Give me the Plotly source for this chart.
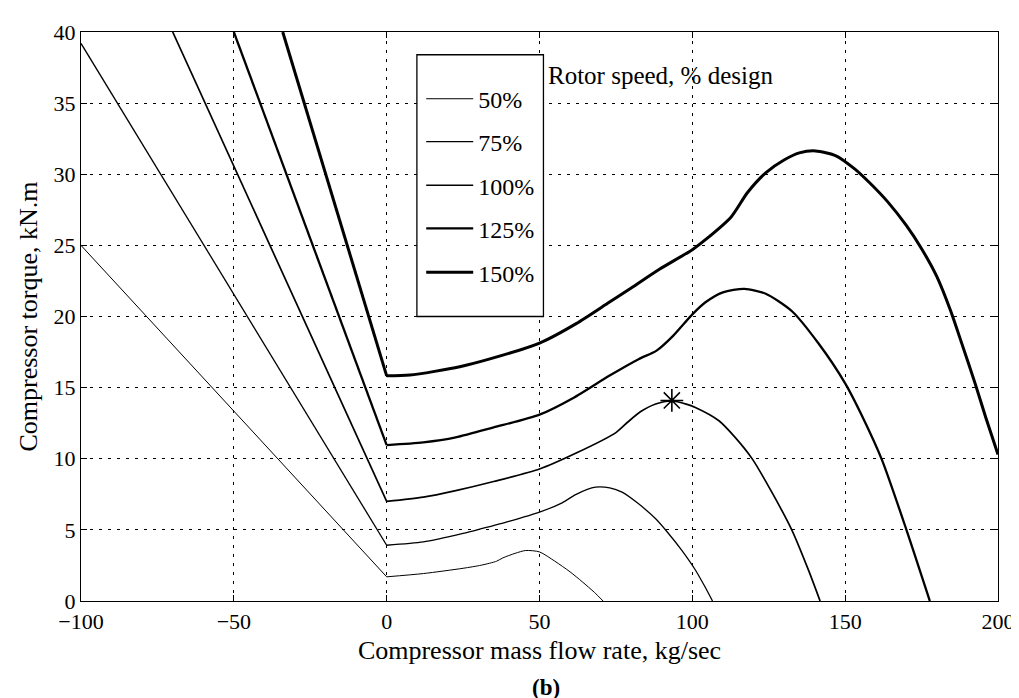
import plotly.graph_objects as go

# ---- data ----
speed_labels = ["50%", "75%", "100%", "125%", "150%"]

flow_50 = [-100, 0, 12, 25, 31, 36, 38, 42, 45.5, 50, 55, 60, 64, 68, 70.8]
torque_50 = [25, 1.7, 1.93, 2.3, 2.52, 2.8, 3.03, 3.35, 3.55, 3.45, 2.8, 2.05, 1.35, 0.6, 0]

flow_75 = [-100, 0, 12, 25, 31, 40, 50, 57.4, 62, 68.3, 73, 77, 82, 88, 92, 96.5, 101, 104, 106.6]
torque_75 = [39.2, 3.92, 4.15, 4.75, 5.08, 5.6, 6.25, 6.9, 7.5, 8.0, 7.95, 7.65, 6.9, 5.78, 4.8, 3.58, 2.18, 1.05, 0]

flow_100 = [-70, 0, 12, 22.6, 35, 50, 62, 75, 79, 83, 88, 93.3, 98, 101, 108.7, 114, 119.6, 126, 132.6, 138, 141.8]
torque_100 = [40, 7.0, 7.3, 7.76, 8.4, 9.28, 10.4, 11.84, 12.6, 13.3, 13.85, 14.06, 13.84, 13.6, 12.67, 11.5, 9.99, 7.65, 4.97, 2.17, 0]

flow_125 = [-50, 0, 12, 22.6, 35, 50, 60.9, 72.8, 82.4, 88.3, 93.7, 100, 104.3, 110, 117, 124, 132.6, 141.3, 150, 156, 162, 170.1, 177.7]
torque_125 = [40, 10.96, 11.15, 11.5, 12.2, 13.1, 14.26, 15.83, 17.0, 17.6, 18.64, 20.15, 21.0, 21.7, 21.94, 21.6, 20.37, 18.1, 15.3, 12.8, 9.94, 4.97, 0]

flow_150 = [-34, 0, 7.6, 23.9, 33.5, 50, 62, 72.8, 80, 89.1, 100, 104.3, 112.7, 118, 124, 130, 135, 140.3, 147, 153.2, 158, 164, 170, 174.9, 180, 184.5, 188, 192.5, 196, 200]
torque_150 = [40, 15.83, 15.88, 16.47, 17.0, 18.13, 19.5, 21.0, 22.0, 23.3, 24.7, 25.4, 27.0, 28.7, 30.1, 31.0, 31.5, 31.64, 31.3, 30.36, 29.4, 28.04, 26.4, 24.8, 22.8, 20.4, 18.2, 15.3, 12.9, 10.3]

design_flow = [93.3]
design_torque = [14.1]

x_ticks = [-100, -50, 0, 50, 100, 150, 200]
y_ticks = [0, 5, 10, 15, 20, 25, 30, 35, 40]

flows = [flow_50, flow_75, flow_100, flow_125, flow_150]
torques = [torque_50, torque_75, torque_100, torque_125, torque_150]
widths = [1.0, 1.3, 1.7, 2.3, 3.0]

FONT = "Liberation Serif"

fig = go.Figure()

legend_y = [0.882, 0.8066, 0.730, 0.654, 0.577]
for i, (lab, fx, ty, w) in enumerate(zip(speed_labels, flows, torques, widths)):
    lname = "legend" if i == 0 else f"legend{i+1}"
    # reverse-flow (straight) branch
    fig.add_trace(go.Scatter(
        x=fx[:2], y=ty[:2], mode="lines", name=lab, showlegend=False,
        legendgroup=lab, line=dict(color="black", width=w),
        hoverinfo="skip",
    ))
    # forward-flow (curved) branch
    fig.add_trace(go.Scatter(
        x=fx[1:], y=ty[1:], mode="lines", name=lab, legendgroup=lab,
        line=dict(color="black", width=w, shape="spline", smoothing=0.7),
        legend=lname, hoverinfo="skip",
    ))

fig.add_trace(go.Scatter(
    x=design_flow, y=design_torque, mode="markers", showlegend=False,
    marker=dict(symbol="asterisk-open", size=19, color="black",
                line=dict(color="black", width=1.6)),
))

legend_common = dict(
    x=0.371, xanchor="left", yanchor="middle",
    bgcolor="rgba(0,0,0,0)", borderwidth=0,
    font=dict(family=FONT, size=24, color="black"),
    itemwidth=47,
)
layout_legends = {}
for i, yy in enumerate(legend_y):
    lname = "legend" if i == 0 else f"legend{i+1}"
    layout_legends[lname] = dict(legend_common, y=yy)

axis_common = dict(
    showline=True, linecolor="black", linewidth=1.3, mirror="ticks",
    ticks="inside", ticklen=6, tickcolor="black", tickwidth=1,
    showgrid=True, gridcolor="black", gridwidth=1, griddash="3px,6px",
    zeroline=False,
    tickfont=dict(family=FONT, size=22, color="black"),
)

fig.update_layout(
    width=1019, height=698,
    paper_bgcolor="white", plot_bgcolor="white",
    margin=dict(l=73, r=26, t=19, b=105),
    showlegend=True,
    xaxis=dict(axis_common, range=[-100, 200], tickvals=x_ticks,
               title=dict(text="Compressor mass flow rate, kg/sec",
                          font=dict(family=FONT, size=26, color="black"),
                          standoff=8)),
    yaxis=dict(axis_common, range=[0, 40], tickvals=y_ticks,
               title=dict(text="Compressor torque, kN.m",
                          font=dict(family=FONT, size=26, color="black"),
                          standoff=8)),
    **layout_legends,
)

# legend box
fig.add_shape(type="rect", xref="paper", yref="paper",
              x0=0.3663, x1=0.5043, y0=0.5, y1=0.96,
              line=dict(color="black", width=1.3), fillcolor="white",
              layer="above")

fig.add_annotation(text="Rotor speed, % design", xref="paper", yref="paper",
                   x=0.5076, y=0.923, xanchor="left", yanchor="middle",
                   showarrow=False, font=dict(family=FONT, size=25, color="black"))

fig.add_annotation(text="<b>(b)</b>", xref="paper", yref="paper",
                   x=0.5076, y=-0.1515, xanchor="center", yanchor="middle",
                   showarrow=False, font=dict(family=FONT, size=23, color="black"))

fig.write_html("out.html")
